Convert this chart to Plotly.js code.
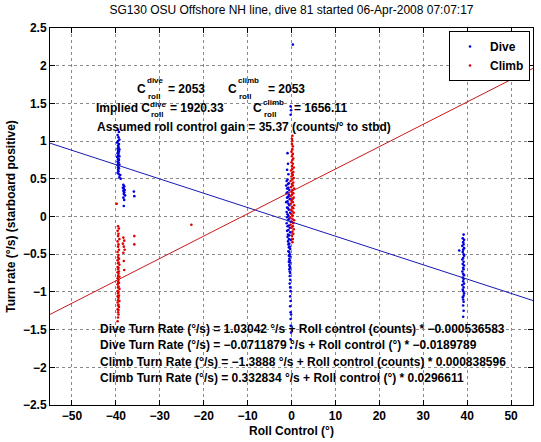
<!DOCTYPE html>
<html>
<head>
<meta charset="utf-8">
<script src="https://cdn.plot.ly/plotly-3.0.1.min.js"></script>
<style>html,body{margin:0;padding:0;background:#fff;}#chart{width:541px;height:442px;}</style>
</head>
<body>
<div id="chart"></div>
<script>
// ---- Data ----
// Dive samples: [roll control (deg), turn rate (deg/s)]
const diveSamplesPort = [
  [-39.5,1.15],[-39.3,1.12],[-39.6,1.08],[-39.4,1.05],[-39.2,1.02],[-39.5,1.00],[-39.7,0.98],[-39.3,0.96],[-39.5,0.94],[-39.4,0.92],
  [-39.6,0.90],[-39.2,0.89],[-39.5,0.87],[-39.3,0.86],[-39.6,0.84],[-39.4,0.83],[-39.5,0.81],[-39.2,0.80],[-39.7,0.79],[-39.4,0.77],
  [-39.5,0.76],[-39.3,0.75],[-39.6,0.73],[-39.4,0.72],[-39.5,0.71],[-39.2,0.69],[-39.6,0.68],[-39.4,0.67],[-39.5,0.65],[-39.3,0.64],
  [-39.5,0.62],[-39.4,0.60],[-39.6,0.58],[-39.3,0.56],[-39.0,0.55],[-39.2,0.52],[-38.9,0.50],
  [-38.3,0.42],[-38.1,0.40],[-38.4,0.38],[-38.2,0.37],[-38.0,0.35],[-38.3,0.34],[-38.1,0.32],[-38.2,0.30],[-37.9,0.28],[-38.3,0.25],
  [-38.1,0.22],[-38.2,0.14],[-35.9,0.33],[-35.8,0.27]
];
const diveSamplesCentre = [
  [0.3,2.28],[-0.2,1.46],[-0.1,1.41],[-0.2,1.35],[-0.9,0.84],[-0.8,0.70],[-1.0,0.62],[-0.7,0.56],
  [-0.9,0.49],[-1.1,0.47],[-0.6,0.44],[-0.8,0.43],[-1.2,0.41],[-0.7,0.38],[-1.0,0.37],[-0.5,0.35],[-0.9,0.32],[-1.1,0.31],
  [-0.6,0.29],[-0.8,0.26],[-1.0,0.25],[-0.4,0.23],[-0.9,0.20],[-1.2,0.19],[-0.7,0.17],[-0.5,0.15],[-1.0,0.12],[-0.8,0.11],
  [-0.6,0.09],[-1.1,0.06],[-0.3,0.05],[-0.9,0.03],[-0.7,0.01],[-1.0,-0.01],[-0.5,-0.03],[-0.8,-0.05],[-0.2,-0.07],[-1.1,-0.09],
  [-0.6,-0.12],[-0.9,-0.13],[-0.4,-0.15],[-0.7,-0.18],[-1.0,-0.19],[-0.3,-0.21],[-0.8,-0.24],[-0.5,-0.25],[-0.9,-0.27],[-0.6,-0.30],
  [-0.2,-0.31],[-0.8,-0.33],[-0.5,-0.36],[-0.7,-0.37],[-0.4,-0.40],[-0.6,-0.41],[-0.3,-0.43],[-0.7,-0.46],[-0.5,-0.47],[-0.4,-0.50],
  [-0.6,-0.52],[-0.3,-0.53],[-0.5,-0.56],[-0.4,-0.58],[-0.6,-0.60],[-0.3,-0.61],[-0.5,-0.64],[-0.4,-0.66],[-0.3,-0.68],[-0.5,-0.70],
  [-0.4,-0.73],[-0.3,-0.75],
  [-0.4,-0.79],[-0.3,-0.84],[-0.4,-0.89],[-0.3,-0.94],[-0.2,-0.99],[-0.3,-1.06],[-0.2,-1.12],[-0.3,-1.19],[-0.2,-1.27],[-0.1,-1.30],
  [-0.2,-1.36],[-0.2,-1.45],[-0.1,-1.54],[-0.2,-1.63],[-0.1,-1.74]
];
const diveSamplesStbd = [
  [39.2,-0.24],[39.0,-0.29],[39.3,-0.31],[39.1,-0.34],[39.2,-0.37],[38.9,-0.39],[39.3,-0.42],[39.1,-0.44],[39.0,-0.47],[39.2,-0.50],
  [39.3,-0.52],[39.1,-0.55],[38.9,-0.57],[39.2,-0.60],[39.0,-0.63],[39.3,-0.65],[39.1,-0.68],[39.2,-0.70],[38.9,-0.73],[39.1,-0.76],
  [39.3,-0.78],[39.0,-0.81],[39.2,-0.83],[39.1,-0.86],[39.3,-0.89],[38.9,-0.91],[39.2,-0.94],[39.0,-0.97],[39.1,-0.99],[39.3,-1.02],
  [39.2,-1.05],[39.0,-1.07],[39.1,-1.10],[39.2,-1.13],[39.1,-1.18],[39.2,-1.25],[39.1,-1.33],[38.2,-0.45]
];
// Climb samples
const climbSamplesPort = [
  [-39.8,0.17],
  [-39.5,-0.13],[-39.3,-0.16],[-39.6,-0.19],[-39.4,-0.23],[-39.5,-0.26],[-39.2,-0.30],[-39.6,-0.33],[-39.4,-0.37],[-39.5,-0.40],[-39.3,-0.44],
  [-39.6,-0.47],[-39.4,-0.51],[-39.5,-0.54],[-39.3,-0.56],[-39.6,-0.58],[-39.4,-0.61],[-39.5,-0.62],[-39.2,-0.64],[-39.6,-0.67],[-39.4,-0.68],
  [-39.5,-0.70],[-39.3,-0.73],[-39.6,-0.74],[-39.4,-0.76],[-39.5,-0.79],[-39.2,-0.80],[-39.6,-0.82],[-39.4,-0.84],[-39.5,-0.87],[-39.3,-0.88],
  [-39.6,-0.90],[-39.4,-0.93],[-39.5,-0.94],[-39.2,-0.96],[-39.6,-0.99],[-39.4,-1.00],[-39.5,-1.02],[-39.3,-1.05],[-39.6,-1.06],[-39.4,-1.08],
  [-39.5,-1.11],[-39.2,-1.12],[-39.6,-1.14],[-39.4,-1.17],[-39.5,-1.18],[-39.3,-1.20],[-39.6,-1.23],[-39.4,-1.24],[-39.5,-1.27],[-39.4,-1.30],
  [-39.5,-1.34],[-39.6,-1.39],
  [-38.3,-0.28],[-38.1,-0.32],[-38.4,-0.36],[-38.2,-0.40],[-38.0,-0.44],[-38.3,-0.48],[-38.2,-0.59],[-38.1,-0.71],
  [-35.8,-0.26],[-35.8,-0.37],[-22.8,-0.11]
];
const climbSamplesCentre = [
  [0.2,1.07],[0.1,1.03],
  [0.2,1.00],[0.1,0.96],[0.3,0.93],[0.2,0.89],[0.0,0.86],[0.3,0.83],[0.1,0.80],[0.4,0.77],[0.2,0.75],[0.0,0.72],
  [0.3,0.70],[0.1,0.67],[0.5,0.65],[0.2,0.63],[-0.1,0.61],[0.4,0.59],[0.1,0.57],[0.3,0.55],[0.0,0.53],[0.5,0.51],
  [0.2,0.49],[-0.2,0.47],[0.4,0.45],[0.1,0.43],[0.3,0.41],[-0.1,0.39],[0.6,0.37],[0.2,0.35],[0.0,0.33],[0.4,0.31],
  [0.1,0.29],[-0.3,0.27],[0.5,0.25],[0.2,0.23],[0.0,0.21],[0.3,0.19],[-0.2,0.17],[0.6,0.15],[0.1,0.13],[0.4,0.11],
  [-0.1,0.09],[0.2,0.07],[0.5,0.05],[0.0,0.03],[0.3,0.01],[-0.3,-0.01],[0.2,-0.03],[0.6,-0.05],[0.1,-0.07],[0.4,-0.09],
  [-0.2,-0.11],[0.3,-0.13],[0.0,-0.15],[0.5,-0.17],[0.2,-0.20],[0.4,-0.23],[0.1,-0.26],[0.3,-0.30],[0.2,-0.34],[0.1,-1.52]
];
// Linear fits (turn rate vs roll control in degrees)
const diveFit  = {intercept: -0.0711879, slope: -0.0189789};
const climbFit = {intercept:  0.332834,  slope:  0.0296611};
const xRange = [-55, 55];
const yRange = [-2.5, 2.5];
const xTicks = [-50,-40,-30,-20,-10,0,10,20,30,40,50];
const yTicks = [-2.5,-2,-1.5,-1,-0.5,0,0.5,1,1.5,2,2.5];

const titleText = 'SG130 OSU Offshore NH line, dive 81 started 06-Apr-2008 07:07:17';
const fitLines = [
  'Dive Turn Rate (°/s) = 1.03042 °/s + Roll control (counts) * −0.000536583',
  'Dive Turn Rate (°/s) = −0.0711879 °/s + Roll control (°) * −0.0189789',
  'Climb Turn Rate (°/s) = −1.3888 °/s + Roll control (counts) * 0.000838596',
  'Climb Turn Rate (°/s) = 0.332834 °/s + Roll control (°) * 0.0296611'
];

// ---- Drawing ----
const FONT = 'Liberation Sans, Arial, Helvetica, sans-serif';
const BLUE = '#1818b4', RED = '#cc1818';
const L = 50, R = 8, T = 28, B = 37, W = 541, H = 442;
const PW = W - L - R, PH = H - T - B;
const px = p => (p - L) / PW;
const py = p => (H - B - p) / PH;

const dive = diveSamplesPort.concat(diveSamplesCentre, diveSamplesStbd);
const climb = climbSamplesPort.concat(climbSamplesCentre);

const traces = [
  {x: dive.map(d => d[0]), y: dive.map(d => d[1]), mode: 'markers', type: 'scatter', name: 'Dive',
   marker: {color: '#0000e0', size: 2.6}},
  {x: climb.map(d => d[0]), y: climb.map(d => d[1]), mode: 'markers', type: 'scatter', name: 'Climb',
   marker: {color: '#e00000', size: 2.6}},
  {x: xRange, y: xRange.map(v => diveFit.intercept + diveFit.slope * v), mode: 'lines', type: 'scatter',
   line: {color: BLUE, width: 1}, showlegend: false, hoverinfo: 'skip'},
  {x: xRange, y: xRange.map(v => climbFit.intercept + climbFit.slope * v), mode: 'lines', type: 'scatter',
   line: {color: RED, width: 1}, showlegend: false, hoverinfo: 'skip'}
];

const annotations = [];
function ann(text, x, y, size) {
  annotations.push({text: text, xref: 'paper', yref: 'paper', x: px(x - 1), y: py(y),
    xanchor: 'left', yanchor: 'middle', showarrow: false, borderpad: 0,
    font: {family: FONT, size: size, color: '#000', weight: 'bold'}});
}
// C_roll lines (superscript above, subscript below, as in the original)
ann('C', 137, 89, 12); ann('dive', 147, 80, 8); ann('roll', 148, 96, 8); ann('= 2053', 168, 89, 12);
ann('C', 228, 89, 12); ann('climb', 238, 80, 8); ann('roll', 239, 96, 8); ann('= 2053', 268, 89, 12);
ann('Implied C', 96, 108, 12); ann('dive', 150, 104, 8); ann('roll', 151, 115, 8); ann('= 1920.33', 170, 108, 12);
ann('C', 253, 108, 12); ann('climb', 263, 102, 8); ann('roll', 264, 115, 8); ann('= 1656.11', 294, 108, 12);
ann('Assumed roll control gain = 35.37 (counts/° to stbd)', 97, 127, 12);
const lineY = [329, 345, 362, 378];
fitLines.forEach((t, i) => ann(t, 100, lineY[i], 12));

const axisCommon = {
  showline: true, linecolor: '#000', linewidth: 1, mirror: 'ticks',
  ticks: 'inside', ticklen: 5, tickcolor: '#000', tickwidth: 1,
  showgrid: true, gridcolor: '#8a8a8a', griddash: 'dot', gridwidth: 1,
  zeroline: false, tickmode: 'array',
  tickfont: {family: FONT, size: 12, color: '#000', weight: 'bold'}
};

const layout = {
  width: W, height: H,
  margin: {l: L, r: R, t: T, b: B, pad: 0},
  paper_bgcolor: '#fff', plot_bgcolor: '#fff',
  font: {family: FONT, color: '#000'},
  title: {text: titleText, font: {family: FONT, size: 12, color: '#000'},
          xref: 'paper', x: 0.5, xanchor: 'center', yref: 'container', y: 1 - 10 / H, yanchor: 'middle'},
  xaxis: Object.assign({}, axisCommon, {range: xRange, tickvals: xTicks,
    title: {text: 'Roll Control (°)', font: {family: FONT, size: 12, color: '#000', weight: 'bold'}, standoff: 4}}),
  yaxis: Object.assign({}, axisCommon, {range: yRange, tickvals: yTicks,
    title: {text: 'Turn rate (°/s) (starboard positive)', font: {family: FONT, size: 12, color: '#000', weight: 'bold'}, standoff: 4}}),
  showlegend: true,
  legend: {x: px(530), y: py(31), xanchor: 'right', yanchor: 'top',
    bgcolor: '#fff', bordercolor: '#000', borderwidth: 1, itemsizing: 'trace', tracegroupgap: 0,
    font: {family: FONT, size: 12, color: '#000', weight: 'bold'}},
  annotations: annotations
};

Plotly.newPlot('chart', traces, layout, {displayModeBar: false, staticPlot: true});
</script>
</body>
</html>
